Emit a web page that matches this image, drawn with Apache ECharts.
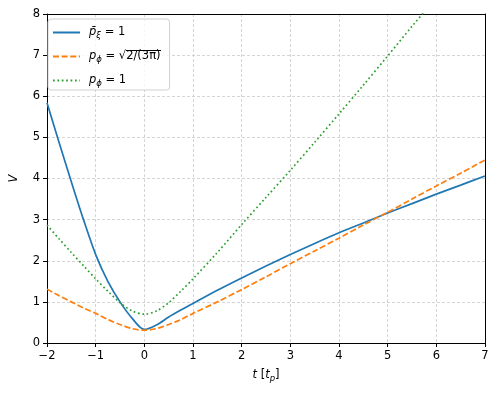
<!DOCTYPE html>
<html>
<head>
<meta charset="utf-8">
<script src="https://cdn.jsdelivr.net/npm/echarts@6/dist/echarts.min.js"></script>
<style>
  html, body { margin: 0; padding: 0; background: #fff; }
  #chart { width: 498px; height: 393px; }
</style>
</head>
<body>
<div id="chart"></div>
<script>
// tiempos (en t_p) donde se leyeron las curvas
var tiempos= [-2, -1.75, -1.5, -1.25, -1, -0.75, -0.5, -0.25, 0, 0.25, 0.5, 0.75, 1, 1.5, 2, 2.5, 3, 3.5, 4, 4.5, 5, 5.5, 6, 6.5, 7];
var vXi= [5.84, 4.87, 3.92, 3.0, 2.15, 1.5, 1.0, 0.6, 0.33, 0.44, 0.63, 0.8, 0.96, 1.28, 1.58, 1.87, 2.15, 2.42, 2.68, 2.92, 3.16, 3.39, 3.62, 3.84, 4.06];
var vRaiz= [1.31, 1.15, 1.0, 0.85, 0.72, 0.57, 0.45, 0.35, 0.31, 0.35, 0.45, 0.57, 0.72, 1.0, 1.3, 1.61, 1.93, 2.24, 2.55, 2.87, 3.18, 3.5, 3.82, 4.13, 4.45];
var vUno= [2.87, 2.53, 2.2, 1.88, 1.56, 1.26, 0.98, 0.78, 0.7, 0.78, 0.98, 1.26, 1.56, 2.2, 2.88, 3.54, 4.2, 4.88, 5.57, 6.27, 6.98, 7.7, 8.4, 9.1, 9.8];
var xTicks= [-2, -1, 0, 1, 2, 3, 4, 5, 6, 7];

var nombres= ['xi', 'raiz', 'uno'];
var etiquetas= {
  xi: '{it|p\u0304}{sub|\u03be}{rm| = 1}',
  raiz: '{it|p}{sub|\u03d5}{rm| = \u221a}{ov|2/(3\u03c0)}',
  uno: '{it|p}{sub|\u03d5}{rm| = 1}'
};

function pares(valores) {
  var lista= [];
  for (var i= 0; i< tiempos.length; i++)
    lista.push([tiempos[i], valores[i]]);
  return lista;
}

function menos(v) {
  return (v< 0? '\u2212'+ Math.abs(v): ''+ v);
}

// raya superior de la raiz (se estira como fondo del fragmento)
function raya() {
  var c= document.createElement('canvas');
  c.width= 8;
  c.height= 15;
  var ctx= c.getContext('2d');
  ctx.fillStyle= '#000';
  ctx.fillRect(0, 1, 8, 1);
  return c;
}

var fuente= 'DejaVu Sans';
var rejilla= {show: true, showMinLine: false, showMaxLine: false, lineStyle: {color: '#cacaca', width: 0.8, type: [3, 2]}};
var borde= {show: true, onZero: false, lineStyle: {color: '#000', width: 1}};

var chart= echarts.init(document.getElementById('chart'), null, {renderer: 'canvas'});
chart.setOption({
  animation: false,
  backgroundColor: '#fff',
  grid: {left: 42, right: 13, top: 14, bottom: 50},
  legend: {
    orient: 'vertical',
    left: 48,
    top: 19,
    data: nombres,
    itemWidth: 27,
    itemHeight: 12,
    itemGap: 9,
    padding: [6, 9, 2, 4],
    backgroundColor: 'rgba(255,255,255,0.8)',
    borderColor: '#d0d0d0',
    borderWidth: 1,
    borderRadius: 3,
    itemStyle: {opacity: 0},
    formatter: function(name) { return etiquetas[name]; },
    textStyle: {
      fontFamily: fuente,
      color: '#000',
      padding: [0, 0, 0, 4],
      rich: {
        it: {fontFamily: fuente, fontStyle: 'italic', fontSize: 11.5, lineHeight: 15, color: '#000'},
        rm: {fontFamily: fuente, fontSize: 11.5, lineHeight: 15, color: '#000'},
        ov: {fontFamily: fuente, fontSize: 11.5, lineHeight: 15, height: 15, color: '#000', backgroundColor: {image: raya()}},
        sub: {fontFamily: fuente, fontStyle: 'italic', fontSize: 8.5, lineHeight: 15, padding: [6, 0, 0, 0], color: '#000'}
      }
    }
  },
  xAxis: [{
    type: 'value',
    min: -2,
    max: 7,
    interval: 1,
    name: '{it|t} [{it|t}{sub|p}]',
    nameLocation: 'middle',
    nameGap: 25,
    nameTextStyle: {
      fontFamily: fuente, fontSize: 11.5, color: '#000',
      rich: {
        it: {fontFamily: fuente, fontStyle: 'italic', fontSize: 11.5, lineHeight: 15, color: '#000'},
        sub: {fontFamily: fuente, fontStyle: 'italic', fontSize: 8.5, lineHeight: 15, padding: [6, 0, 0, 0], color: '#000'}
      }
    },
    axisLine: borde,
    axisTick: {show: true, length: 4, lineStyle: {color: '#000', width: 1}},
    axisLabel: {fontFamily: fuente, fontSize: 11.5, color: '#000', margin: 7, formatter: menos,
      customValues: xTicks},
    splitLine: rejilla
  }, {
    // marco de arriba
    type: 'value', position: 'top', min: -2, max: 7,
    axisLine: borde, axisTick: {show: false}, axisLabel: {show: false}, splitLine: {show: false}
  }],
  yAxis: [{
    type: 'value',
    min: 0,
    max: 8,
    interval: 1,
    name: 'V',
    nameLocation: 'middle',
    nameGap: 27,
    nameTextStyle: {fontFamily: fuente, fontStyle: 'italic', fontSize: 11.5, color: '#000'},
    axisLine: borde,
    axisTick: {show: true, length: 4, lineStyle: {color: '#000', width: 1}},
    axisLabel: {fontFamily: fuente, fontSize: 11.5, color: '#000', margin: 7},
    splitLine: rejilla
  }, {
    // marco de la derecha
    type: 'value', position: 'right', min: 0, max: 8,
    axisLine: borde, axisTick: {show: false}, axisLabel: {show: false}, splitLine: {show: false}
  }],
  series: [
    {name: 'xi', type: 'line', data: pares(vXi), showSymbol: false, symbol: 'none', smooth: 0.3,
      lineStyle: {color: '#1f77b4', width: 1.7}, itemStyle: {color: '#1f77b4'}},
    {name: 'raiz', type: 'line', data: pares(vRaiz), showSymbol: false, symbol: 'none', smooth: 0.3,
      lineStyle: {color: '#ff7f0e', width: 1.7, type: [6, 2.6]}, itemStyle: {color: '#ff7f0e'}},
    {name: 'uno', type: 'line', data: pares(vUno), showSymbol: false, symbol: 'none', smooth: 0.3,
      lineStyle: {color: '#2ca02c', width: 1.7, type: [1.7, 2.7]}, itemStyle: {color: '#2ca02c'}}
  ]
});
</script>
</body>
</html>
